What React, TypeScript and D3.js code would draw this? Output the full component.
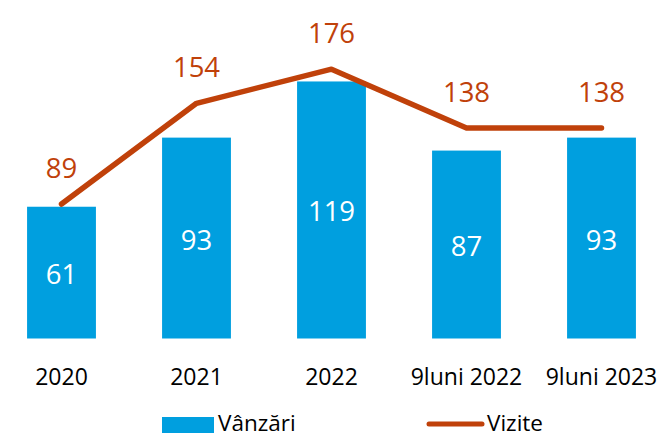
import React from "react";
import * as d3 from "d3";

const categories = ["2020", "2021", "2022", "9luni 2022", "9luni 2023"];
const sales = [61, 93, 119, 87, 93];
const visits = [89, 154, 176, 138, 138];
const seriesNames = ["Vânzări", "Vizite"];

const W = 661;
const H = 437;
const BAR = "#009FDF";
const LINE = "#C0410A";
const FONT = "'Open Sans', 'Noto Sans', sans-serif";

export default function App() {
  const x = d3
    .scaleBand<string>()
    .domain(categories)
    .range([-6, 669])
    .paddingInner(0.49)
    .paddingOuter(0.245);
  const yBar = d3.scaleLinear().domain([0, 140]).range([338.5, 36.1]);
  const yLine = d3.scaleLinear().domain([0, 200]).range([342, 32]);
  const cx = (c: string) => (x(c) as number) + x.bandwidth() / 2;

  const lineGen = d3
    .line<number>()
    .x((_, i) => cx(categories[i]))
    .y((d) => yLine(d));

  return (
    <div style={{ position: "absolute", left: 0, top: 0 }}>
      <svg width={W} height={H} style={{ display: "block", fontFamily: FONT }}>
        <rect width={W} height={H} fill="#fff" />
        {categories.map((c, i) => (
          <rect
            key={c}
            x={x(c)}
            y={yBar(sales[i])}
            width={x.bandwidth()}
            height={yBar(0) - yBar(sales[i])}
            fill={BAR}
          />
        ))}
        {categories.map((c, i) => (
          <text
            key={"bl" + c}
            x={cx(c)}
            y={(yBar(sales[i]) + yBar(0)) / 2 + 11.5}
            textAnchor="middle"
            fontSize={27.5}
            fill="#fff"
          >
            {sales[i]}
          </text>
        ))}
        <path
          d={lineGen(visits) || ""}
          fill="none"
          stroke={LINE}
          strokeWidth={5.5}
          strokeLinecap="round"
          strokeLinejoin="round"
        />
        {categories.map((c, i) => (
          <text
            key={"ll" + c}
            x={cx(c)}
            y={yLine(visits[i]) - 26.5}
            textAnchor="middle"
            fontSize={27.5}
            fill={LINE}
          >
            {visits[i]}
          </text>
        ))}
        {categories.map((c) => (
          <text
            key={"xl" + c}
            x={cx(c)}
            y={384.5}
            textAnchor="middle"
            fontSize={23}
            fill="#000"
          >
            {c}
          </text>
        ))}
        <g>
          <rect x={162} y={417} width={52} height={16} fill={BAR} />
          <text x={218} y={431} fontSize={22.5} fill="#000">
            {seriesNames[0]}
          </text>
          <line
            x1={429}
            x2={482}
            y1={424}
            y2={424}
            stroke={LINE}
            strokeWidth={5}
            strokeLinecap="round"
          />
          <text x={487} y={431} fontSize={22.5} fill="#000">
            {seriesNames[1]}
          </text>
        </g>
      </svg>
    </div>
  );
}
